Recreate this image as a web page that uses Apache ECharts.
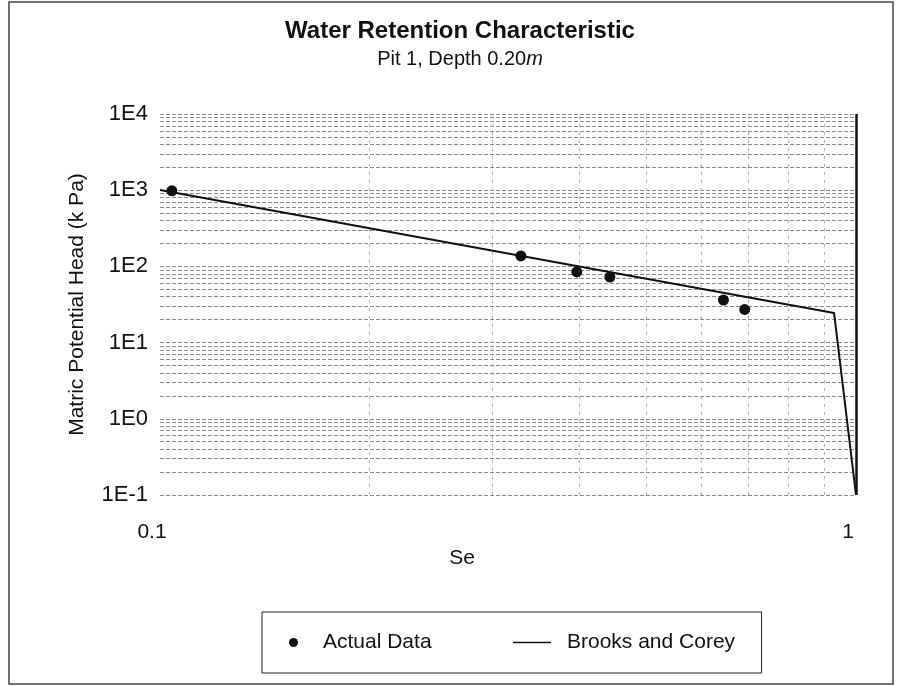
<!DOCTYPE html>
<html>
<head>
<meta charset="utf-8">
<script src="https://cdn.jsdelivr.net/npm/echarts@6/dist/echarts.min.js"></script>
<style>
html,body{margin:0;padding:0;background:#fff;}
#chart{width:899px;height:686px;}
</style>
</head>
<body>
<div id="chart"></div>
<script>
// ---- data ----
const actualSe = [0.104, 0.33, 0.397, 0.443, 0.645, 0.692];
const actualH  = [980, 137, 84.5, 72.6, 36.2, 27.2];
const bcSe = [0.1, 0.93, 1.0];
const bcH  = [1007, 24.5, 0.1];
const yDecades = [0.1, 1, 10, 100, 1000, 10000];
const minorMultipliers = [2, 3, 4, 5, 6, 7, 8, 9];
const xMinorValues = [0.2, 0.3, 0.4, 0.5, 0.6, 0.7, 0.8, 0.9];

const FONT = 'Liberation Sans, Arial, sans-serif';

// minor horizontal gridlines (log minor positions)
const yMinorLines = [];
yDecades.slice(0, -1).forEach(d => {
  minorMultipliers.forEach(m => yMinorLines.push({ yAxis: +(d * m).toPrecision(3) }));
});
const xMinorLines = xMinorValues.map(v => ({ xAxis: v }));

const chart = echarts.init(document.getElementById('chart'), null, { renderer: 'canvas' });
chart.setOption({
  backgroundColor: '#fff',
  animation: false,
  title: {
    text: 'Water Retention Characteristic',
    subtext: 'Pit 1, Depth 0.20{i|m}',
    left: 455,
    top: 14,
    textAlign: 'center',
    itemGap: 6,
    textStyle: { fontFamily: FONT, fontSize: 24, fontWeight: 'bold', color: '#111' },
    subtextStyle: { fontFamily: FONT, fontSize: 20, color: '#111',
      rich: { i: { fontFamily: FONT, fontSize: 20, fontStyle: 'italic', color: '#111' } } }
  },
  grid: { left: 160, right: 43, top: 114, bottom: 191 },
  xAxis: {
    type: 'log',
    logBase: 10,
    min: 0.1,
    max: 1,
    name: 'Se',
    nameLocation: 'middle',
    nameGap: 50,
    nameTextStyle: { fontFamily: FONT, fontSize: 21, color: '#111', padding: [0, 92, 0, 0] },
    axisLine: { show: false },
    axisTick: { show: false },
    splitLine: { show: false },
    axisLabel: { fontFamily: FONT, fontSize: 21, color: '#111', margin: 27, padding: [0, 16, 0, 0],
      formatter: v => (v < 1 ? '0.1' : '1') }
  },
  yAxis: {
    type: 'log',
    logBase: 10,
    min: 0.1,
    max: 10000,
    name: 'Matric Potential Head (k Pa)',
    nameLocation: 'middle',
    nameGap: 72,
    nameTextStyle: { fontFamily: FONT, fontSize: 21, color: '#111' },
    axisLine: { show: false },
    axisTick: { show: false },
    splitLine: { show: true, lineStyle: { color: '#8a8a8a', width: 1, type: [4, 2] } },
    axisLabel: { fontFamily: FONT, fontSize: 22, color: '#111', margin: 12,
      formatter: v => '1E' + Math.round(Math.log10(v)) }
  },
  legend: [
    {
      left: 262,
      top: 612,
      orient: 'horizontal',
      itemWidth: 9,
      itemHeight: 9,
      padding: [20, 330, 20, 27],
      borderColor: '#222',
      borderWidth: 1,
      backgroundColor: '#fff',
      textStyle: { fontFamily: FONT, fontSize: 21, color: '#111', padding: [0, 0, 0, 20] },
      data: [{ name: 'Actual Data', icon: 'circle' }]
    },
    {
      left: 513,
      top: 612,
      orient: 'horizontal',
      itemWidth: 38,
      itemHeight: 9,
      padding: [20, 0, 20, 0],
      textStyle: { fontFamily: FONT, fontSize: 21, color: '#111', padding: [0, 0, 0, 11] },
      data: [{ name: 'Brooks and Corey', icon: 'path://M0,0L38,0L38,1.5L0,1.5Z' }]
    }
  ],
  graphic: [{
    type: 'rect',
    shape: { x: 9, y: 2, width: 884, height: 682 },
    style: { fill: 'none', stroke: '#444', lineWidth: 1.5 },
    silent: true,
    z: -1
  }],
  series: [
    {
      name: 'gridlines',
      type: 'line',
      data: [],
      silent: true,
      z: 1,
      markLine: {
        silent: true,
        z: 1,
        symbol: 'none',
        label: { show: false },
        animation: false,
        data: [
          ...yMinorLines.map(o => Object.assign({ lineStyle: { color: '#8a8a8a', width: 1, type: [4, 2] } }, o)),
          ...xMinorLines.map(o => Object.assign({ lineStyle: { color: '#b0b0b0', width: 1, type: [3, 5] } }, o)),
          { xAxis: 1, lineStyle: { color: '#111', width: 2.5, type: 'solid' } }
        ]
      }
    },
    {
      name: 'Brooks and Corey',
      type: 'line',
      data: bcSe.map((s, i) => [s, bcH[i]]),
      symbol: 'none',
      lineStyle: { color: '#111', width: 2 },
      itemStyle: { color: '#111' },
      z: 6
    },
    {
      name: 'Actual Data',
      type: 'scatter',
      data: actualSe.map((s, i) => [s, actualH[i]]),
      symbol: 'circle',
      symbolSize: 11,
      itemStyle: { color: '#111', opacity: 1 },
      z: 8
    }
  ]
});
</script>
</body>
</html>
